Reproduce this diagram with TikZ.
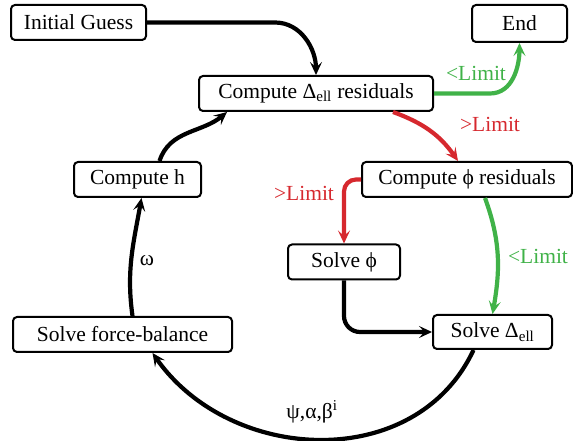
\documentclass[tikz,border=0pt]{standalone}
\usepackage{fontspec}
\setmainfont{Liberation Serif}
\usetikzlibrary{arrows.meta}
\definecolor{lgreen}{RGB}{64,178,72}
\definecolor{lred}{RGB}{214,40,46}
\begin{document}
\begin{tikzpicture}[x=1pt,y=1pt,
  box/.style={draw,line width=2pt,rounded corners=4pt,inner sep=0pt,font=\fontsize{21.5}{26}\selectfont},
  conn/.style={line width=4.2pt,-{Stealth[length=13pt,width=12pt,inset=5.5pt]}},
  blk/.style={conn,black},
  grn/.style={conn,lgreen},
  rd/.style={conn,lred},
  lbl/.style={font=\fontsize{21.5}{26}\selectfont,inner sep=0pt}]
\useasboundingbox (0,0) rectangle (573,441);
\node[box,minimum width=135pt,minimum height=35pt] (ig) at (78.5,418.5) {Initial Guess};
\node[box,minimum width=95pt,minimum height=37pt] (end) at (519.5,417.5) {End};
\node[box,minimum width=234pt,minimum height=35pt] (cd) at (316,347.5) {Compute Δ\textsubscript{ell} residuals};
\node[box,minimum width=210pt,minimum height=35pt] (cp) at (467,261.5) {Compute ϕ residuals};
\node[box,minimum width=127pt,minimum height=35pt] (ch) at (137.5,261.5) {Compute h};
\node[box,minimum width=112pt,minimum height=35pt] (sp) at (344,179) {Solve ϕ};
\node[box,minimum width=119pt,minimum height=34pt] (sd) at (492.5,109) {Solve Δ\textsubscript{ell}};
\node[box,minimum width=219pt,minimum height=35pt] (sf) at (122.5,106.5) {Solve force-balance};
% connectors
\coordinate (igc) at (275,418.5);
\draw[blk] (ig.east) -- (igc) to[out=0,in=90] (cd.north);
\coordinate (cdg) at (490,347.5);
\draw[grn] (cd.east) -- (cdg) to[out=0,in=-90] (end.south);
\node[lbl,text=lgreen] (l1) at (476,368) {<Limit};
\draw[rd] ([xshift=77pt]cd.south) to[out=-20,in=125] ([xshift=-9pt]cp.north);
\node[lbl,text=lred] (l2) at (490,317) {>Limit};
\draw[rd,rounded corners=12pt] (cp.west) -| (sp.north);
\node[lbl,text=lred] (l3) at (304,248) {>Limit};
\draw[grn] ([xshift=18pt]cp.south) to[out=-70,in=80] (sd.north);
\node[lbl,text=lgreen] (l4) at (538,185) {<Limit};
\draw[blk,rounded corners=16pt] (sp.south) |- (sd.west);
\draw[blk] ([xshift=-19pt]sd.south) to[out=-115,in=-55,looseness=1.08] ([xshift=30pt]sf.south);
\node[lbl] (l5) at (312,29) {ψ,α,β\textsuperscript{i}};
\draw[blk] ([xshift=10pt]sf.north) to[out=98,in=-100] ([xshift=4pt]ch.south);
\node[lbl] (l6) at (147,180) {ω};
\draw[blk] ([xshift=22pt]ch.north) to[out=72,in=-140] ([xshift=-89pt]cd.south);
\end{tikzpicture}
\end{document}
